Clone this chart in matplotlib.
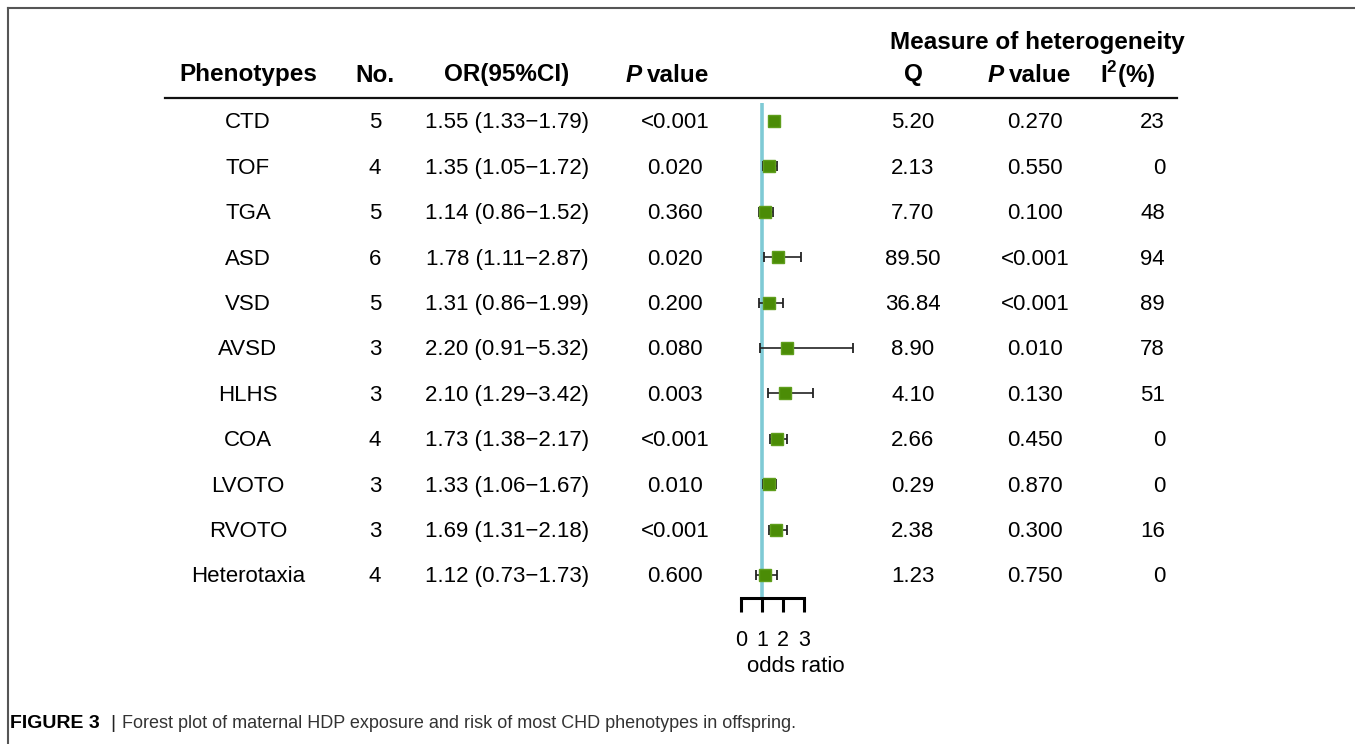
import matplotlib.pyplot as plt
from matplotlib import transforms
from matplotlib.lines import Line2D

plt.rcParams['font.family'] = ['Liberation Sans', 'DejaVu Sans']
plt.rcParams['mathtext.fontset'] = 'custom'
plt.rcParams['mathtext.rm'] = 'Liberation Sans'
plt.rcParams['mathtext.bf'] = 'Liberation Sans:bold'

phenotypes = ['CTD', 'TOF', 'TGA', 'ASD', 'VSD', 'AVSD', 'HLHS', 'COA',
              'LVOTO', 'RVOTO', 'Heterotaxia']
n_studies = [5, 4, 5, 6, 5, 3, 3, 4, 3, 3, 4]
odds = [1.55, 1.35, 1.14, 1.78, 1.31, 2.20, 2.10, 1.73, 1.33, 1.69, 1.12]
ci_low = [1.33, 1.05, 0.86, 1.11, 0.86, 0.91, 1.29, 1.38, 1.06, 1.31, 0.73]
ci_high = [1.79, 1.72, 1.52, 2.87, 1.99, 5.32, 3.42, 2.17, 1.67, 2.18, 1.73]
p_values = ['<0.001', '0.020', '0.360', '0.020', '0.200', '0.080', '0.003',
            '<0.001', '0.010', '<0.001', '0.600']
q_values = ['5.20', '2.13', '7.70', '89.50', '36.84', '8.90', '4.10', '2.66',
            '0.29', '2.38', '1.23']
p_het = ['0.270', '0.550', '0.100', '<0.001', '<0.001', '0.010', '0.130',
         '0.450', '0.870', '0.300', '0.750']
i2 = ['23', '0', '48', '94', '89', '78', '51', '0', '0', '16', '0']

W, H = 1355, 744
fig = plt.figure(figsize=(W / 100, H / 100), dpi=100)


def fx(px):
    return px / W


def fy(py):
    return (H - py) / H


# forest plot axes
ax = fig.add_axes([fx(720), fy(598), fx(867) - fx(720), fy(98) - fy(598)])
ax.set_xlim(-1, 6)
ax.set_ylim(-10.507, 0.507)
ypos = [-i for i in range(len(phenotypes))]

ax.vlines(1, -10.507, 0.4, color='#7fcad5', lw=2.6, zorder=1)
err_lo = [o - l for o, l in zip(odds, ci_low)]
err_hi = [h - o for o, h in zip(odds, ci_high)]
ax.errorbar(odds, ypos, xerr=[err_lo, err_hi], fmt='none', ecolor='#222222',
            elinewidth=1.2, capsize=3.5, capthick=1.3, zorder=2)
ax.plot(odds, ypos, 's', color='#4b8c06', mec='#5f9e1c', ms=8, zorder=3)

for s in ['top', 'right', 'left']:
    ax.spines[s].set_visible(False)
ax.spines['bottom'].set_bounds(0, 3)
ax.spines['bottom'].set_linewidth(2.2)
ax.set_yticks([])
ax.set_xticks([0, 1, 2, 3])
ax.tick_params(axis='x', length=10, width=2.2, pad=13, labelsize=15.5)
ax.set_xlabel('odds ratio', fontsize=16, x=0.517, labelpad=4)
ax.patch.set_alpha(0)

# table text
tr = transforms.blended_transform_factory(fig.transFigure, ax.transData)
fs = 16
for i, y in enumerate(ypos):
    y = y - 0.04
    fig.text(fx(248), y, phenotypes[i], transform=tr, ha='center', va='center', fontsize=fs)
    fig.text(fx(375), y, str(n_studies[i]), transform=tr, ha='center', va='center', fontsize=fs)
    or_txt = f'{odds[i]:.2f} ({ci_low[i]:.2f}\u2212{ci_high[i]:.2f})'
    fig.text(fx(507), y, or_txt, transform=tr, ha='center', va='center', fontsize=fs)
    fig.text(fx(675), y, p_values[i], transform=tr, ha='center', va='center', fontsize=fs)
    fig.text(fx(913), y, q_values[i], transform=tr, ha='center', va='center', fontsize=fs)
    fig.text(fx(1035), y, p_het[i], transform=tr, ha='center', va='center', fontsize=fs)
    fig.text(fx(1165), y, i2[i], transform=tr, ha='right', va='center', fontsize=fs)

# headers
hy = fy(75)
hfs = 17.5
fig.text(fx(248), hy, 'Phenotypes', ha='center', va='center', fontsize=hfs, weight='bold')
fig.text(fx(375), hy, 'No.', ha='center', va='center', fontsize=hfs, weight='bold')
fig.text(fx(507), hy, 'OR(95%CI)', ha='center', va='center', fontsize=hfs, weight='bold')
for x0 in (626, 988):
    fig.text(fx(x0), hy, 'P', ha='left', va='center', fontsize=hfs, weight='bold', style='italic')
    fig.text(fx(x0 + 21), hy, 'value', ha='left', va='center', fontsize=hfs, weight='bold')
fig.text(fx(913), hy, 'Q', ha='center', va='center', fontsize=hfs, weight='bold')
fig.text(fx(1128), hy, r'I$^{\mathbf{2}}$(%)', ha='center', va='center', fontsize=hfs, weight='bold')
fig.text(fx(1037), fy(42), 'Measure of heterogeneity', ha='center', va='center',
         fontsize=hfs, weight='bold')

fig.add_artist(Line2D([fx(165), fx(1177)], [fy(98), fy(98)], color='#111111', lw=1.6))

# frame
fig.add_artist(Line2D([fx(8), fx(W)], [fy(8), fy(8)], color='#555555', lw=1.5))
fig.add_artist(Line2D([fx(8), fx(8)], [fy(8), 0], color='#555555', lw=1.5))

# caption
fig.text(fx(10), fy(724), 'FIGURE 3', ha='left', va='center', fontsize=14, weight='bold')
fig.text(fx(110), fy(724), '|', ha='left', va='center', fontsize=14, color='#222222')
fig.text(fx(122), fy(724), 'Forest plot of maternal HDP exposure and risk of most CHD phenotypes in offspring.',
         ha='left', va='center', fontsize=13, color='#333333')

fig.savefig('out.png', dpi=100, facecolor='white')
